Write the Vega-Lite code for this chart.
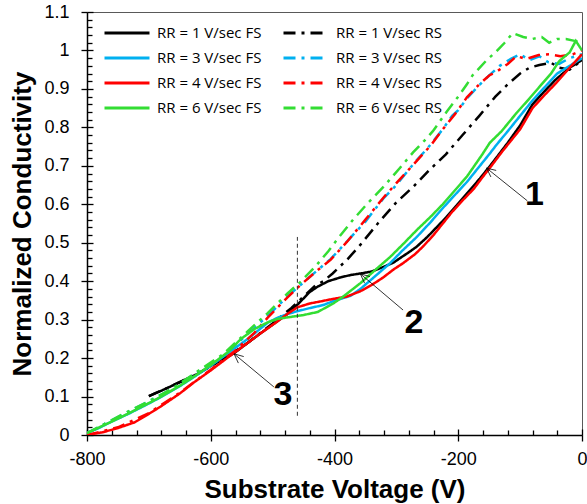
{
  "$schema": "https://vega.github.io/schema/vega-lite/v6.json",
  "width": 495,
  "height": 423,
  "autosize": {"type": "none"},
  "padding": {"left": 87, "top": 12, "right": 5, "bottom": 69},
  "datasets": {
    "curves": [
      {"s":"RR = 1 V/sec FS","v":-700,"c":0.101},{"s":"RR = 1 V/sec FS","v":-680,"c":0.115},{"s":"RR = 1 V/sec FS","v":-660,"c":0.13},{"s":"RR = 1 V/sec FS","v":-640,"c":0.145},{"s":"RR = 1 V/sec FS","v":-620,"c":0.16},{"s":"RR = 1 V/sec FS","v":-600,"c":0.18},{"s":"RR = 1 V/sec FS","v":-580,"c":0.197},{"s":"RR = 1 V/sec FS","v":-562,"c":0.213},{"s":"RR = 1 V/sec FS","v":-540,"c":0.24},{"s":"RR = 1 V/sec FS","v":-519,"c":0.265},{"s":"RR = 1 V/sec FS","v":-500,"c":0.287},{"s":"RR = 1 V/sec FS","v":-476,"c":0.315},{"s":"RR = 1 V/sec FS","v":-458,"c":0.342},{"s":"RR = 1 V/sec FS","v":-440,"c":0.372},{"s":"RR = 1 V/sec FS","v":-427,"c":0.386},{"s":"RR = 1 V/sec FS","v":-410,"c":0.4},{"s":"RR = 1 V/sec FS","v":-390,"c":0.41},{"s":"RR = 1 V/sec FS","v":-374,"c":0.416},{"s":"RR = 1 V/sec FS","v":-358,"c":0.42},{"s":"RR = 1 V/sec FS","v":-340,"c":0.425},{"s":"RR = 1 V/sec FS","v":-321,"c":0.437},{"s":"RR = 1 V/sec FS","v":-305,"c":0.448},{"s":"RR = 1 V/sec FS","v":-294,"c":0.46},{"s":"RR = 1 V/sec FS","v":-280,"c":0.475},{"s":"RR = 1 V/sec FS","v":-267,"c":0.49},{"s":"RR = 1 V/sec FS","v":-250,"c":0.515},{"s":"RR = 1 V/sec FS","v":-235,"c":0.54},{"s":"RR = 1 V/sec FS","v":-220,"c":0.565},{"s":"RR = 1 V/sec FS","v":-202,"c":0.598},{"s":"RR = 1 V/sec FS","v":-185,"c":0.63},{"s":"RR = 1 V/sec FS","v":-165,"c":0.667},{"s":"RR = 1 V/sec FS","v":-150,"c":0.697},{"s":"RR = 1 V/sec FS","v":-138,"c":0.722},{"s":"RR = 1 V/sec FS","v":-120,"c":0.76},{"s":"RR = 1 V/sec FS","v":-100,"c":0.805},{"s":"RR = 1 V/sec FS","v":-80,"c":0.86},{"s":"RR = 1 V/sec FS","v":-60,"c":0.895},{"s":"RR = 1 V/sec FS","v":-42,"c":0.925},{"s":"RR = 1 V/sec FS","v":-20,"c":0.955},{"s":"RR = 1 V/sec FS","v":0,"c":0.975},

      {"s":"RR = 1 V/sec RS","v":-700,"c":0.101},{"s":"RR = 1 V/sec RS","v":-660,"c":0.13},{"s":"RR = 1 V/sec RS","v":-620,"c":0.16},{"s":"RR = 1 V/sec RS","v":-580,"c":0.197},{"s":"RR = 1 V/sec RS","v":-540,"c":0.24},{"s":"RR = 1 V/sec RS","v":-500,"c":0.29},{"s":"RR = 1 V/sec RS","v":-470,"c":0.33},{"s":"RR = 1 V/sec RS","v":-450,"c":0.36},{"s":"RR = 1 V/sec RS","v":-430,"c":0.39},{"s":"RR = 1 V/sec RS","v":-418,"c":0.4},{"s":"RR = 1 V/sec RS","v":-403,"c":0.42},{"s":"RR = 1 V/sec RS","v":-379,"c":0.457},{"s":"RR = 1 V/sec RS","v":-358,"c":0.495},{"s":"RR = 1 V/sec RS","v":-330,"c":0.55},{"s":"RR = 1 V/sec RS","v":-300,"c":0.605},{"s":"RR = 1 V/sec RS","v":-273,"c":0.645},{"s":"RR = 1 V/sec RS","v":-246,"c":0.69},{"s":"RR = 1 V/sec RS","v":-220,"c":0.73},{"s":"RR = 1 V/sec RS","v":-193,"c":0.78},{"s":"RR = 1 V/sec RS","v":-166,"c":0.83},{"s":"RR = 1 V/sec RS","v":-140,"c":0.88},{"s":"RR = 1 V/sec RS","v":-120,"c":0.912},{"s":"RR = 1 V/sec RS","v":-100,"c":0.94},{"s":"RR = 1 V/sec RS","v":-85,"c":0.955},{"s":"RR = 1 V/sec RS","v":-69,"c":0.962},{"s":"RR = 1 V/sec RS","v":-50,"c":0.968},{"s":"RR = 1 V/sec RS","v":-37,"c":0.955},{"s":"RR = 1 V/sec RS","v":-20,"c":0.95},{"s":"RR = 1 V/sec RS","v":-8,"c":0.965},{"s":"RR = 1 V/sec RS","v":0,"c":0.975},

      {"s":"RR = 3 V/sec FS","v":-800,"c":0.005},{"s":"RR = 3 V/sec FS","v":-781,"c":0.018},{"s":"RR = 3 V/sec FS","v":-760,"c":0.035},{"s":"RR = 3 V/sec FS","v":-733,"c":0.055},{"s":"RR = 3 V/sec FS","v":-700,"c":0.082},{"s":"RR = 3 V/sec FS","v":-680,"c":0.099},{"s":"RR = 3 V/sec FS","v":-650,"c":0.127},{"s":"RR = 3 V/sec FS","v":-627,"c":0.151},{"s":"RR = 3 V/sec FS","v":-600,"c":0.18},{"s":"RR = 3 V/sec FS","v":-572,"c":0.213},{"s":"RR = 3 V/sec FS","v":-540,"c":0.25},{"s":"RR = 3 V/sec FS","v":-508,"c":0.292},{"s":"RR = 3 V/sec FS","v":-492,"c":0.305},{"s":"RR = 3 V/sec FS","v":-475,"c":0.315},{"s":"RR = 3 V/sec FS","v":-460,"c":0.322},{"s":"RR = 3 V/sec FS","v":-440,"c":0.33},{"s":"RR = 3 V/sec FS","v":-418,"c":0.338},{"s":"RR = 3 V/sec FS","v":-402,"c":0.348},{"s":"RR = 3 V/sec FS","v":-374,"c":0.362},{"s":"RR = 3 V/sec FS","v":-358,"c":0.38},{"s":"RR = 3 V/sec FS","v":-335,"c":0.412},{"s":"RR = 3 V/sec FS","v":-310,"c":0.447},{"s":"RR = 3 V/sec FS","v":-290,"c":0.48},{"s":"RR = 3 V/sec FS","v":-267,"c":0.515},{"s":"RR = 3 V/sec FS","v":-245,"c":0.553},{"s":"RR = 3 V/sec FS","v":-225,"c":0.59},{"s":"RR = 3 V/sec FS","v":-205,"c":0.625},{"s":"RR = 3 V/sec FS","v":-186,"c":0.658},{"s":"RR = 3 V/sec FS","v":-165,"c":0.7},{"s":"RR = 3 V/sec FS","v":-150,"c":0.73},{"s":"RR = 3 V/sec FS","v":-138,"c":0.755},{"s":"RR = 3 V/sec FS","v":-120,"c":0.79},{"s":"RR = 3 V/sec FS","v":-100,"c":0.83},{"s":"RR = 3 V/sec FS","v":-80,"c":0.87},{"s":"RR = 3 V/sec FS","v":-60,"c":0.905},{"s":"RR = 3 V/sec FS","v":-40,"c":0.94},{"s":"RR = 3 V/sec FS","v":-20,"c":0.96},{"s":"RR = 3 V/sec FS","v":0,"c":0.98},

      {"s":"RR = 3 V/sec RS","v":-800,"c":0.005},{"s":"RR = 3 V/sec RS","v":-770,"c":0.03},{"s":"RR = 3 V/sec RS","v":-740,"c":0.055},{"s":"RR = 3 V/sec RS","v":-700,"c":0.088},{"s":"RR = 3 V/sec RS","v":-660,"c":0.122},{"s":"RR = 3 V/sec RS","v":-620,"c":0.165},{"s":"RR = 3 V/sec RS","v":-580,"c":0.205},{"s":"RR = 3 V/sec RS","v":-540,"c":0.263},{"s":"RR = 3 V/sec RS","v":-508,"c":0.31},{"s":"RR = 3 V/sec RS","v":-476,"c":0.36},{"s":"RR = 3 V/sec RS","v":-455,"c":0.39},{"s":"RR = 3 V/sec RS","v":-430,"c":0.425},{"s":"RR = 3 V/sec RS","v":-406,"c":0.458},{"s":"RR = 3 V/sec RS","v":-380,"c":0.503},{"s":"RR = 3 V/sec RS","v":-350,"c":0.555},{"s":"RR = 3 V/sec RS","v":-321,"c":0.615},{"s":"RR = 3 V/sec RS","v":-300,"c":0.65},{"s":"RR = 3 V/sec RS","v":-280,"c":0.69},{"s":"RR = 3 V/sec RS","v":-267,"c":0.715},{"s":"RR = 3 V/sec RS","v":-250,"c":0.745},{"s":"RR = 3 V/sec RS","v":-240,"c":0.765},{"s":"RR = 3 V/sec RS","v":-225,"c":0.795},{"s":"RR = 3 V/sec RS","v":-210,"c":0.83},{"s":"RR = 3 V/sec RS","v":-200,"c":0.845},{"s":"RR = 3 V/sec RS","v":-186,"c":0.875},{"s":"RR = 3 V/sec RS","v":-166,"c":0.91},{"s":"RR = 3 V/sec RS","v":-150,"c":0.935},{"s":"RR = 3 V/sec RS","v":-133,"c":0.96},{"s":"RR = 3 V/sec RS","v":-115,"c":0.978},{"s":"RR = 3 V/sec RS","v":-100,"c":0.99},{"s":"RR = 3 V/sec RS","v":-85,"c":0.975},{"s":"RR = 3 V/sec RS","v":-69,"c":0.985},{"s":"RR = 3 V/sec RS","v":-55,"c":0.97},{"s":"RR = 3 V/sec RS","v":-37,"c":0.965},{"s":"RR = 3 V/sec RS","v":-20,"c":0.98},{"s":"RR = 3 V/sec RS","v":0,"c":0.99},

      {"s":"RR = 4 V/sec FS","v":-800,"c":0.0},{"s":"RR = 4 V/sec FS","v":-775,"c":0.007},{"s":"RR = 4 V/sec FS","v":-750,"c":0.018},{"s":"RR = 4 V/sec FS","v":-723,"c":0.033},{"s":"RR = 4 V/sec FS","v":-700,"c":0.055},{"s":"RR = 4 V/sec FS","v":-680,"c":0.075},{"s":"RR = 4 V/sec FS","v":-650,"c":0.108},{"s":"RR = 4 V/sec FS","v":-627,"c":0.137},{"s":"RR = 4 V/sec FS","v":-600,"c":0.168},{"s":"RR = 4 V/sec FS","v":-572,"c":0.202},{"s":"RR = 4 V/sec FS","v":-545,"c":0.234},{"s":"RR = 4 V/sec FS","v":-519,"c":0.265},{"s":"RR = 4 V/sec FS","v":-495,"c":0.292},{"s":"RR = 4 V/sec FS","v":-476,"c":0.315},{"s":"RR = 4 V/sec FS","v":-460,"c":0.332},{"s":"RR = 4 V/sec FS","v":-440,"c":0.342},{"s":"RR = 4 V/sec FS","v":-427,"c":0.346},{"s":"RR = 4 V/sec FS","v":-402,"c":0.354},{"s":"RR = 4 V/sec FS","v":-380,"c":0.36},{"s":"RR = 4 V/sec FS","v":-358,"c":0.374},{"s":"RR = 4 V/sec FS","v":-340,"c":0.39},{"s":"RR = 4 V/sec FS","v":-321,"c":0.41},{"s":"RR = 4 V/sec FS","v":-305,"c":0.43},{"s":"RR = 4 V/sec FS","v":-289,"c":0.447},{"s":"RR = 4 V/sec FS","v":-270,"c":0.47},{"s":"RR = 4 V/sec FS","v":-257,"c":0.49},{"s":"RR = 4 V/sec FS","v":-240,"c":0.52},{"s":"RR = 4 V/sec FS","v":-225,"c":0.55},{"s":"RR = 4 V/sec FS","v":-210,"c":0.58},{"s":"RR = 4 V/sec FS","v":-193,"c":0.61},{"s":"RR = 4 V/sec FS","v":-175,"c":0.64},{"s":"RR = 4 V/sec FS","v":-161,"c":0.67},{"s":"RR = 4 V/sec FS","v":-145,"c":0.703},{"s":"RR = 4 V/sec FS","v":-130,"c":0.735},{"s":"RR = 4 V/sec FS","v":-115,"c":0.765},{"s":"RR = 4 V/sec FS","v":-100,"c":0.795},{"s":"RR = 4 V/sec FS","v":-80,"c":0.85},{"s":"RR = 4 V/sec FS","v":-60,"c":0.885},{"s":"RR = 4 V/sec FS","v":-42,"c":0.915},{"s":"RR = 4 V/sec FS","v":-20,"c":0.955},{"s":"RR = 4 V/sec FS","v":0,"c":0.99},

      {"s":"RR = 4 V/sec RS","v":-800,"c":0.0},{"s":"RR = 4 V/sec RS","v":-750,"c":0.02},{"s":"RR = 4 V/sec RS","v":-700,"c":0.057},{"s":"RR = 4 V/sec RS","v":-650,"c":0.11},{"s":"RR = 4 V/sec RS","v":-600,"c":0.17},{"s":"RR = 4 V/sec RS","v":-560,"c":0.22},{"s":"RR = 4 V/sec RS","v":-530,"c":0.265},{"s":"RR = 4 V/sec RS","v":-508,"c":0.305},{"s":"RR = 4 V/sec RS","v":-476,"c":0.358},{"s":"RR = 4 V/sec RS","v":-455,"c":0.39},{"s":"RR = 4 V/sec RS","v":-430,"c":0.425},{"s":"RR = 4 V/sec RS","v":-406,"c":0.456},{"s":"RR = 4 V/sec RS","v":-380,"c":0.502},{"s":"RR = 4 V/sec RS","v":-350,"c":0.56},{"s":"RR = 4 V/sec RS","v":-321,"c":0.617},{"s":"RR = 4 V/sec RS","v":-300,"c":0.655},{"s":"RR = 4 V/sec RS","v":-280,"c":0.69},{"s":"RR = 4 V/sec RS","v":-262,"c":0.722},{"s":"RR = 4 V/sec RS","v":-245,"c":0.752},{"s":"RR = 4 V/sec RS","v":-225,"c":0.795},{"s":"RR = 4 V/sec RS","v":-205,"c":0.835},{"s":"RR = 4 V/sec RS","v":-186,"c":0.878},{"s":"RR = 4 V/sec RS","v":-166,"c":0.912},{"s":"RR = 4 V/sec RS","v":-150,"c":0.935},{"s":"RR = 4 V/sec RS","v":-138,"c":0.945},{"s":"RR = 4 V/sec RS","v":-120,"c":0.965},{"s":"RR = 4 V/sec RS","v":-106,"c":0.985},{"s":"RR = 4 V/sec RS","v":-90,"c":0.978},{"s":"RR = 4 V/sec RS","v":-70,"c":0.988},{"s":"RR = 4 V/sec RS","v":-53,"c":0.99},{"s":"RR = 4 V/sec RS","v":-35,"c":0.985},{"s":"RR = 4 V/sec RS","v":-15,"c":0.99},{"s":"RR = 4 V/sec RS","v":0,"c":1.0},

      {"s":"RR = 6 V/sec FS","v":-800,"c":0.005},{"s":"RR = 6 V/sec FS","v":-780,"c":0.02},{"s":"RR = 6 V/sec FS","v":-760,"c":0.035},{"s":"RR = 6 V/sec FS","v":-733,"c":0.056},{"s":"RR = 6 V/sec FS","v":-700,"c":0.083},{"s":"RR = 6 V/sec FS","v":-680,"c":0.1},{"s":"RR = 6 V/sec FS","v":-650,"c":0.128},{"s":"RR = 6 V/sec FS","v":-627,"c":0.152},{"s":"RR = 6 V/sec FS","v":-600,"c":0.182},{"s":"RR = 6 V/sec FS","v":-572,"c":0.216},{"s":"RR = 6 V/sec FS","v":-551,"c":0.25},{"s":"RR = 6 V/sec FS","v":-530,"c":0.275},{"s":"RR = 6 V/sec FS","v":-508,"c":0.293},{"s":"RR = 6 V/sec FS","v":-492,"c":0.302},{"s":"RR = 6 V/sec FS","v":-471,"c":0.307},{"s":"RR = 6 V/sec FS","v":-450,"c":0.312},{"s":"RR = 6 V/sec FS","v":-427,"c":0.32},{"s":"RR = 6 V/sec FS","v":-402,"c":0.342},{"s":"RR = 6 V/sec FS","v":-386,"c":0.36},{"s":"RR = 6 V/sec FS","v":-358,"c":0.395},{"s":"RR = 6 V/sec FS","v":-335,"c":0.428},{"s":"RR = 6 V/sec FS","v":-310,"c":0.463},{"s":"RR = 6 V/sec FS","v":-290,"c":0.495},{"s":"RR = 6 V/sec FS","v":-267,"c":0.533},{"s":"RR = 6 V/sec FS","v":-245,"c":0.567},{"s":"RR = 6 V/sec FS","v":-225,"c":0.6},{"s":"RR = 6 V/sec FS","v":-205,"c":0.637},{"s":"RR = 6 V/sec FS","v":-186,"c":0.672},{"s":"RR = 6 V/sec FS","v":-161,"c":0.73},{"s":"RR = 6 V/sec FS","v":-149,"c":0.76},{"s":"RR = 6 V/sec FS","v":-130,"c":0.79},{"s":"RR = 6 V/sec FS","v":-106,"c":0.837},{"s":"RR = 6 V/sec FS","v":-85,"c":0.875},{"s":"RR = 6 V/sec FS","v":-69,"c":0.905},{"s":"RR = 6 V/sec FS","v":-50,"c":0.94},{"s":"RR = 6 V/sec FS","v":-37,"c":0.972},{"s":"RR = 6 V/sec FS","v":-20,"c":0.995},{"s":"RR = 6 V/sec FS","v":-10,"c":1.025},{"s":"RR = 6 V/sec FS","v":0,"c":1.0},

      {"s":"RR = 6 V/sec RS","v":-800,"c":0.005},{"s":"RR = 6 V/sec RS","v":-770,"c":0.03},{"s":"RR = 6 V/sec RS","v":-740,"c":0.056},{"s":"RR = 6 V/sec RS","v":-700,"c":0.088},{"s":"RR = 6 V/sec RS","v":-660,"c":0.123},{"s":"RR = 6 V/sec RS","v":-620,"c":0.167},{"s":"RR = 6 V/sec RS","v":-580,"c":0.21},{"s":"RR = 6 V/sec RS","v":-540,"c":0.27},{"s":"RR = 6 V/sec RS","v":-508,"c":0.317},{"s":"RR = 6 V/sec RS","v":-476,"c":0.368},{"s":"RR = 6 V/sec RS","v":-455,"c":0.398},{"s":"RR = 6 V/sec RS","v":-430,"c":0.44},{"s":"RR = 6 V/sec RS","v":-410,"c":0.478},{"s":"RR = 6 V/sec RS","v":-395,"c":0.51},{"s":"RR = 6 V/sec RS","v":-370,"c":0.56},{"s":"RR = 6 V/sec RS","v":-345,"c":0.605},{"s":"RR = 6 V/sec RS","v":-321,"c":0.645},{"s":"RR = 6 V/sec RS","v":-294,"c":0.695},{"s":"RR = 6 V/sec RS","v":-273,"c":0.735},{"s":"RR = 6 V/sec RS","v":-255,"c":0.765},{"s":"RR = 6 V/sec RS","v":-241,"c":0.79},{"s":"RR = 6 V/sec RS","v":-219,"c":0.84},{"s":"RR = 6 V/sec RS","v":-200,"c":0.88},{"s":"RR = 6 V/sec RS","v":-186,"c":0.912},{"s":"RR = 6 V/sec RS","v":-177,"c":0.935},{"s":"RR = 6 V/sec RS","v":-154,"c":0.975},{"s":"RR = 6 V/sec RS","v":-140,"c":0.995},{"s":"RR = 6 V/sec RS","v":-125,"c":1.02},{"s":"RR = 6 V/sec RS","v":-112,"c":1.045},{"s":"RR = 6 V/sec RS","v":-95,"c":1.035},{"s":"RR = 6 V/sec RS","v":-80,"c":1.03},{"s":"RR = 6 V/sec RS","v":-65,"c":1.035},{"s":"RR = 6 V/sec RS","v":-53,"c":1.02},{"s":"RR = 6 V/sec RS","v":-40,"c":1.03},{"s":"RR = 6 V/sec RS","v":-26,"c":1.03},{"s":"RR = 6 V/sec RS","v":-12,"c":1.025},{"s":"RR = 6 V/sec RS","v":0,"c":1.02}
    ],
    "marker": [{"x": -460, "y": 0.05, "y2": 0.515}],
    "arrows": [
      {"x": -88.4, "y": 0.609, "x2": -154.2, "y2": 0.694},
      {"x": -154.2, "y": 0.694, "x2": -147.2, "y2": 0.671},
      {"x": -154.2, "y": 0.694, "x2": -138.7, "y2": 0.688},
      {"x": -289.2, "y": 0.325, "x2": -358.2, "y2": 0.419},
      {"x": -358.2, "y": 0.419, "x2": -351.5, "y2": 0.395},
      {"x": -358.2, "y": 0.419, "x2": -342.7, "y2": 0.412},
      {"x": -498, "y": 0.125, "x2": -562.3, "y2": 0.211},
      {"x": -562.3, "y": 0.211, "x2": -555.4, "y2": 0.187},
      {"x": -562.3, "y": 0.211, "x2": -546.7, "y2": 0.204}
    ],
    "numbers": [
      {"x": -77, "y": 0.625, "t": "1"},
      {"x": -271.5, "y": 0.292, "t": "2"},
      {"x": -483.5, "y": 0.105, "t": "3"}
    ]
  },
  "layer": [
    {
      "data": {"name": "curves"},
      "mark": {"type": "line", "strokeWidth": 2.5, "clip": true},
      "encoding": {
        "x": {"field": "v", "type": "quantitative",
          "scale": {"domain": [-800, 0], "nice": false, "zero": false},
          "axis": {"values": [-800, -600, -400, -200, 0], "labelExpr": "'' + datum.value", "labelFlush": false, "tickSize": 6, "labelPadding": 9, "title": "Substrate Voltage (V)", "titleY": 62, "titleBaseline": "alphabetic", "orient": "bottom"}},
        "y": {"field": "c", "type": "quantitative",
          "scale": {"domain": [0, 1.1], "nice": false, "zero": false},
          "axis": {"values": [0, 0.1, 0.2, 0.3, 0.4, 0.5, 0.6, 0.7, 0.8, 0.9, 1, 1.1], "labelExpr": "'' + datum.value", "labelFlush": false, "tickSize": 6, "labelPadding": 12, "title": "Normalized Conductivity", "titleX": -57, "titleAngle": 270, "titleBaseline": "alphabetic", "orient": "left"}},
        "color": {"field": "s", "type": "nominal",
          "scale": {"domain": ["RR = 1 V/sec FS", "RR = 3 V/sec FS", "RR = 4 V/sec FS", "RR = 6 V/sec FS", "RR = 1 V/sec RS", "RR = 3 V/sec RS", "RR = 4 V/sec RS", "RR = 6 V/sec RS"],
                    "range": ["#000000", "#00B0F0", "#FF0000", "#33DD33", "#000000", "#00B0F0", "#FF0000", "#33DD33"]},
          "legend": {"orient": "none", "legendX": 31, "legendY": 12, "columns": 2, "title": null, "labelFont": "Open Sans", "labelFontSize": 15, "labelColor": "#000", "symbolType": "M-3,0H3", "symbolSize": 225, "symbolStrokeWidth": 3, "labelOffset": 21, "columnPadding": 15, "rowPadding": 8, "padding": 0}},
        "strokeDash": {"field": "s", "type": "nominal",
          "scale": {"domain": ["RR = 1 V/sec FS", "RR = 3 V/sec FS", "RR = 4 V/sec FS", "RR = 6 V/sec FS", "RR = 1 V/sec RS", "RR = 3 V/sec RS", "RR = 4 V/sec RS", "RR = 6 V/sec RS"],
                    "range": [[1, 0], [1, 0], [1, 0], [1, 0], [12, 6, 3, 6], [12, 6, 3, 6], [12, 6, 3, 6], [12, 6, 3, 6]]},
          "legend": {"orient": "none", "legendX": 31, "legendY": 12, "columns": 2, "title": null, "labelFont": "Open Sans", "labelFontSize": 15, "labelColor": "#000", "symbolType": "M-3,0H3", "symbolSize": 225, "symbolStrokeWidth": 3, "labelOffset": 21, "columnPadding": 15, "rowPadding": 8, "padding": 0}}
      }
    },
    {
      "data": {"name": "marker"},
      "mark": {"type": "rule", "strokeDash": [4, 3], "strokeWidth": 1, "color": "#333333"},
      "encoding": {
        "x": {"field": "x", "type": "quantitative", "scale": {"domain": [-800, 0], "nice": false, "zero": false},
          "axis": {"orient": "bottom", "values": [-800, -760, -720, -680, -640, -600, -560, -520, -480, -440, -400, -360, -320, -280, -240, -200, -160, -120, -80, -40, 0], "labels": false, "domain": false, "title": null, "tickSize": {"condition": {"test": "datum.value % 200 === 0", "value": -6}, "value": -5}}},
        "y": {"field": "y", "type": "quantitative", "scale": {"domain": [0, 1.1], "nice": false, "zero": false},
          "axis": {"orient": "left", "values": [0, 0.02, 0.04, 0.06, 0.08, 0.1, 0.12, 0.14, 0.16, 0.18, 0.2, 0.22, 0.24, 0.26, 0.28, 0.3, 0.32, 0.34, 0.36, 0.38, 0.4, 0.42, 0.44, 0.46, 0.48, 0.5, 0.52, 0.54, 0.56, 0.58, 0.6, 0.62, 0.64, 0.66, 0.68, 0.7, 0.72, 0.74, 0.76, 0.78, 0.8, 0.82, 0.84, 0.86, 0.88, 0.9, 0.92, 0.94, 0.96, 0.98, 1, 1.02, 1.04, 1.06, 1.08, 1.1], "labels": false, "domain": false, "title": null, "tickSize": {"condition": {"test": "abs(datum.value * 10 - round(datum.value * 10)) < 0.001", "value": -6}, "value": -5}}},
        "y2": {"field": "y2"}
      }
    },
    {
      "data": {"name": "arrows"},
      "mark": {"type": "rule", "strokeWidth": 0.8, "color": "#000000"},
      "encoding": {
        "x": {"field": "x", "type": "quantitative", "axis": null},
        "y": {"field": "y", "type": "quantitative", "axis": null},
        "x2": {"field": "x2"},
        "y2": {"field": "y2"}
      }
    },
    {
      "data": {"name": "numbers"},
      "mark": {"type": "text", "font": "Liberation Sans", "fontSize": 34, "fontWeight": "bold", "color": "#000000", "baseline": "middle", "align": "center"},
      "encoding": {
        "x": {"field": "x", "type": "quantitative", "axis": null},
        "y": {"field": "y", "type": "quantitative", "axis": null},
        "text": {"field": "t"}
      }
    }
  ],
  "resolve": {"axis": {"x": "independent", "y": "independent"}},
  "config": {
    "view": {"stroke": "#595959", "strokeWidth": 1},
    "axis": {"grid": false, "domainColor": "#000000", "domainWidth": 1.5, "tickColor": "#000000", "tickWidth": 1.3, "labelFont": "Liberation Sans", "labelFontSize": 18, "labelColor": "#000000", "titleFont": "Liberation Sans", "titleFontSize": 26, "titleFontWeight": "bold", "titleColor": "#000000"}
  }
}
